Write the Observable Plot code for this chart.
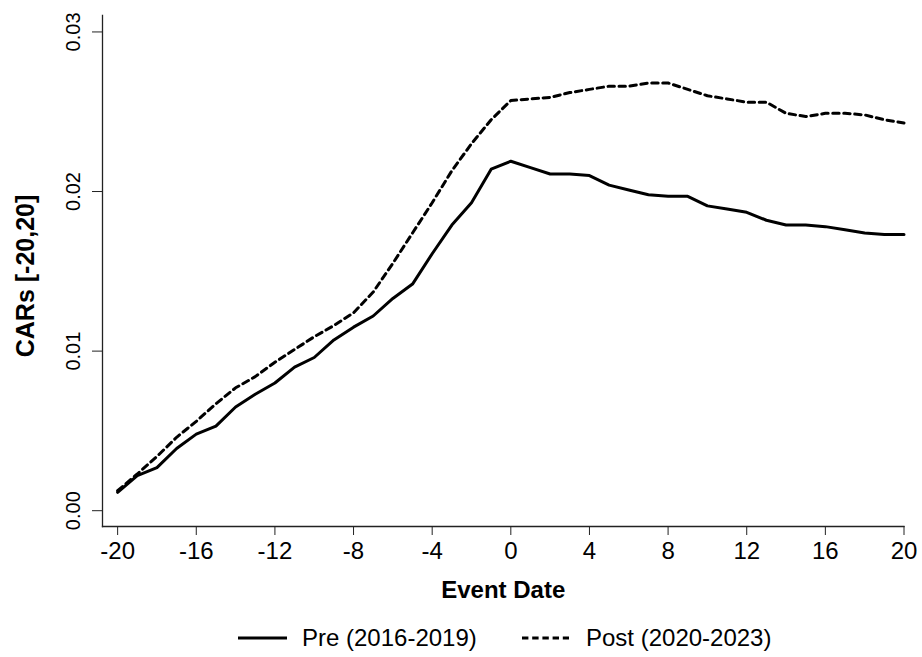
<!DOCTYPE html>
<html><head><meta charset="utf-8">
<script src="https://cdn.jsdelivr.net/npm/d3@7"></script>
<script src="https://cdn.jsdelivr.net/npm/@observablehq/plot@0.6"></script>
<style>
body{margin:0;background:#fff;font-family:"Liberation Sans",Arial,sans-serif;}
#chart{width:922px;position:relative;}
#legend{position:relative;width:922px;height:52px;font-size:24px;color:#000;}
#legend .sw{position:absolute;top:31px;}
#legend .lab{position:absolute;top:19px;line-height:28px;white-space:nowrap;}
</style></head><body>
<div id="chart"></div>
<div id="legend">
  <svg class="sw" style="left:238px" width="49" height="4"><line x1="0" x2="49" y1="2" y2="2" stroke="#000" stroke-width="3"/></svg>
  <span class="lab" id="l1" style="left:302px"></span>
  <svg class="sw" style="left:522px" width="47" height="4"><line x1="0" x2="47" y1="2" y2="2" stroke="#000" stroke-width="3" stroke-dasharray="6.4,3.8"/></svg>
  <span class="lab" id="l2" style="left:586px"></span>
</div>
<script>
const eventDays = [-20,-19,-18,-17,-16,-15,-14,-13,-12,-11,-10,-9,-8,-7,-6,-5,-4,-3,-2,-1,0,1,2,3,4,5,6,7,8,9,10,11,12,13,14,15,16,17,18,19,20];
const preCAR = [0.00115,0.0022,0.0027,0.0039,0.0048,0.0053,0.0065,0.0073,0.0080,0.0090,0.0096,0.0107,0.0115,0.0122,0.0133,0.0142,0.0161,0.0179,0.0193,0.0214,0.0219,0.0215,0.0211,0.0211,0.0210,0.0204,0.0201,0.0198,0.0197,0.0197,0.0191,0.0189,0.0187,0.0182,0.0179,0.0179,0.0178,0.0176,0.0174,0.0173,0.0173];
const postCAR = [0.00125,0.0023,0.0034,0.0046,0.0056,0.0067,0.0077,0.0084,0.0093,0.0101,0.0109,0.0116,0.0124,0.0137,0.0155,0.0174,0.0193,0.0213,0.0230,0.0245,0.0257,0.0258,0.0259,0.0262,0.0264,0.0266,0.0266,0.0268,0.0268,0.0264,0.0260,0.0258,0.0256,0.0256,0.0249,0.0247,0.0249,0.0249,0.0248,0.0245,0.0243];
const xTicks = [-20,-16,-12,-8,-4,0,4,8,12,16,20];
const yTicks = [0,0.01,0.02,0.03];
const seriesNames = ["Pre (2016-2019)","Post (2020-2023)"];
const xLabel = "Event Date";
const yLabel = "CARs [-20,20]";

document.getElementById("l1").textContent = seriesNames[0];
document.getElementById("l2").textContent = seriesNames[1];

const pre = eventDays.map((d,i)=>({day:d, car:preCAR[i]}));
const post = eventDays.map((d,i)=>({day:d, car:postCAR[i]}));

const chart = Plot.plot({
  width: 922,
  height: 605,
  marginLeft: 102,
  marginRight: 18.5,
  marginTop: 15,
  marginBottom: 79,
  style: {fontFamily: "Liberation Sans, Arial, sans-serif", color: "#000", background: "#fff"},
  x: {domain: [-20.77, 20]},
  y: {domain: [-0.00099, 0.03103]},
  marks: [
    Plot.frame({anchor: "left", stroke: "#222", strokeWidth: 1.3}),
    Plot.frame({anchor: "bottom", stroke: "#222", strokeWidth: 1.3}),
    Plot.axisX({ticks: xTicks, tickSize: 9, tickPadding: 6, fontSize: 24, tickFormat: d => String(d), label: null, stroke: "#222"}),
    Plot.axisY({ticks: yTicks, tickSize: 10, tickFormat: () => "", label: null, stroke: "#222"}),
    Plot.text(yTicks, {y: d => d, frameAnchor: "left", dx: -29, textAnchor: "middle", lineAnchor: "middle", rotate: -90, text: d => d3.format(".2f")(d), fontSize: 20}),
    Plot.text([xLabel], {frameAnchor: "bottom", dy: 64, textAnchor: "middle", lineAnchor: "middle", fontWeight: "bold", fontSize: 24}),
    Plot.text([yLabel], {frameAnchor: "left", dx: -77, dy: 5, textAnchor: "middle", lineAnchor: "middle", rotate: -90, fontWeight: "bold", fontSize: 25}),
    Plot.line(pre, {x: "day", y: "car", stroke: "#000", strokeWidth: 3}),
    Plot.line(post, {x: "day", y: "car", stroke: "#000", strokeWidth: 3, strokeDasharray: "6.4,4.6"})
  ]
});
document.getElementById("chart").appendChild(chart);
</script>
</body></html>
